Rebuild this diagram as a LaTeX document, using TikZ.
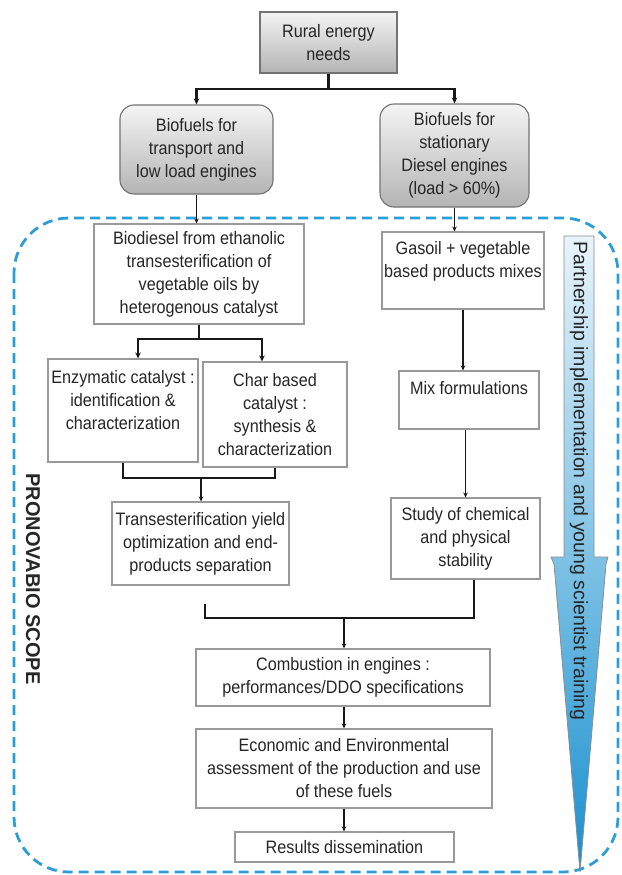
\documentclass[tikz,border=0pt]{standalone}
\usepackage{fontspec}
\setmainfont{Liberation Sans}[FakeStretch=0.9]
\newfontfamily\plainsans{Liberation Sans}
\usetikzlibrary{arrows.meta}
\definecolor{dashblue}{HTML}{2B9ED8}
\definecolor{arrtop}{HTML}{E8F4FB}
\definecolor{arrmid}{HTML}{7CC6EE}
\definecolor{arrbot}{HTML}{1890CF}
\definecolor{gtop}{HTML}{F4F4F4}
\definecolor{gbot}{HTML}{B4B4B4}
\begin{document}
\begin{tikzpicture}[x=1pt,y=-1pt,
  every node/.style={font=\fontsize{18}{23}\selectfont, text=black!85},
  box/.style={draw=black!40, line width=1.1pt, fill=white, align=center, inner sep=0pt},
  gbox/.style={box, draw=black!55, top color=gtop, bottom color=gbot},
  br/.style={line width=2.4pt, black!90},
  ar/.style={line width=1.4pt, black!90, -{Stealth[length=5pt,width=4.5pt]}},
  brar/.style={br, -{Stealth[length=6pt,width=5.5pt]}},
]
\useasboundingbox (0,0) rectangle (621,875);

% scope frame
\draw[dashblue, line width=2.8pt, dash pattern=on 10pt off 6pt, rounded corners=55pt] (14,218) rectangle (618,872);

% training arrow
\path[draw=black!45, line width=0.8pt, top color=arrtop, middle color=arrmid, bottom color=arrbot]
  (564,236) -- (594,236) -- (594,557) -- (608,557) -- (606,564) -- (580,872) -- (554,564) -- (551,557) -- (564,557) -- cycle;
\node[font=\plainsans\fontsize{19.5}{20}\selectfont, rotate=-90] (ptxt) at (579,481) {Partnership implementation and young scientist training};
\node[font=\plainsans\bfseries\fontsize{20}{22}\selectfont, rotate=-90] (scope) at (33,579) {PRONOVABIO SCOPE};

% boxes
\node[gbox, minimum width=137pt, minimum height=61pt] (rural) at (328.5,42.5) {Rural energy\\needs};
\node[gbox, rounded corners=14pt, minimum width=153pt, minimum height=89pt] (bfl) at (196.5,149.5) {Biofuels for\\transport and\\low load engines};
\node[gbox, rounded corners=14pt, minimum width=149pt, minimum height=103pt] (bfr) at (454.5,155.5) {Biofuels for\\stationary\\Diesel engines\\(load > 60\%)};
\node[box, minimum width=210pt, minimum height=100pt] (bio) at (199,274) {Biodiesel from ethanolic\\transesterification of\\vegetable oils by\\heterogenous catalyst};
\node[box] (gas) at (463,270.5) {\parbox[c][77pt][t]{162pt}{\centering\vspace*{9.5pt}Gasoil + vegetable\\based products mixes}};
\node[box] (enz) at (123,410.5) {\parbox[c][103pt][t]{150pt}{\centering\vspace*{11pt}Enzymatic catalyst :\\identification \&\\characterization}};
\node[box, minimum width=144pt, minimum height=105pt] (char) at (275,414.5) {Char based\\catalyst :\\synthesis \&\\characterization};
\node[box] (mix) at (469,400) {\parbox[c][58pt][t]{140pt}{\centering\vspace*{10.5pt}Mix formulations}};
\node[box, minimum width=177pt, minimum height=83pt] (trans) at (200.5,543.5) {Transesterification yield\\optimization and end-\\products separation};
\node[box, minimum width=149pt, minimum height=81pt] (study) at (465.5,538.5) {Study of chemical\\and physical\\stability};
\node[box, minimum width=294pt, minimum height=57pt] (comb) at (343,677.5) {Combustion in engines :\\performances/DDO specifications};
\node[box, minimum width=296pt, minimum height=79pt] (econ) at (344,768.5) {Economic and Environmental\\assessment of the production and use\\of these fuels};
\node[box, minimum width=219pt, minimum height=30pt] (res) at (344.5,847) {Results dissemination};

% connectors
\coordinate (j1) at (328.5,89);
\draw[br] (rural.south) -- (j1);
\draw[brar] (j1) -| (bfl.north);
\draw[brar] (j1) -| (bfr.north);
\draw[ar] (bfl.south) -- (bfl.south |- bio.north);
\draw[ar] (bfr.south) -- (bfr.south |- gas.north);

\coordinate (j2) at (199,339);
\draw[br] (bio.south) -- (j2);
\draw[brar] (j2) -| ([xshift=15pt]enz.north);
\draw[brar] (j2) -| ([xshift=-13pt]char.north);

\coordinate (m1) at (201,478);
\draw[br] (enz.south) |- (m1) -| (char.south);
\draw[ar] (m1) -- (m1 |- trans.north);

\draw[ar] (gas.south) -- (gas.south |- mix.north);
\draw[ar] (study.north |- mix.south) -- (study.north);

\coordinate (m2a) at (205,604);
\coordinate (m2) at (344,618);
\draw[br] (m2a) |- (m2);
\draw[br] ([xshift=8.5pt]study.south) |- (m2);
\draw[ar] (m2) -- (m2 |- comb.north);
\draw[ar] (comb.south -| econ.north) -- (econ.north);
\draw[ar] (econ.south) -- (econ.south |- res.north);
\end{tikzpicture}
\end{document}
